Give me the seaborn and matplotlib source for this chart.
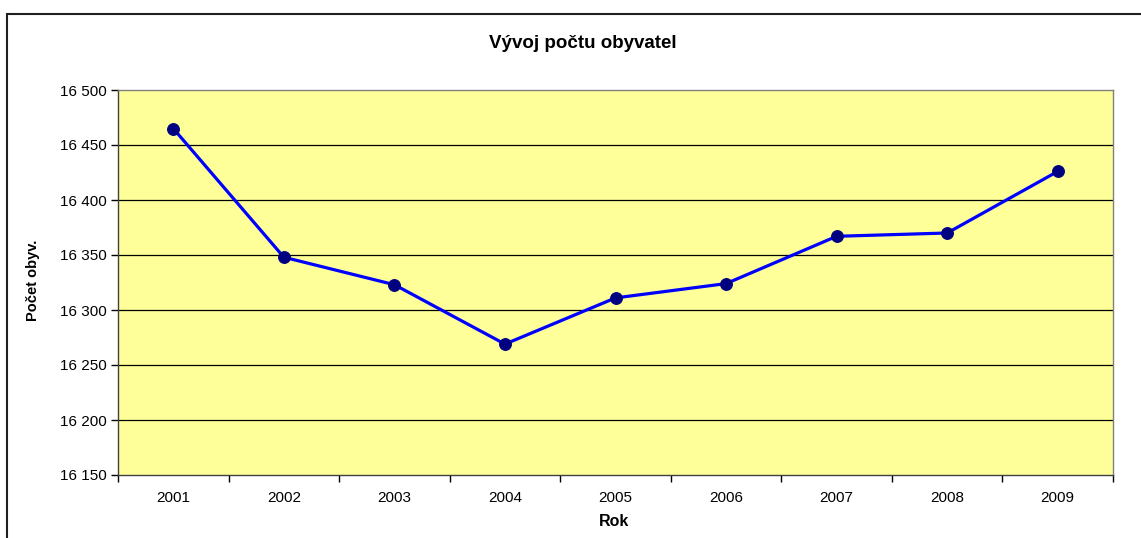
import matplotlib
matplotlib.use("Agg")
import matplotlib.pyplot as plt
import seaborn as sns
import numpy as np
from matplotlib.patches import Rectangle
from matplotlib.ticker import FuncFormatter, FixedLocator

years = ["2001", "2002", "2003", "2004", "2005", "2006", "2007", "2008", "2009"]
population = [16465, 16348, 16323, 16269, 16311, 16324, 16367, 16370, 16426]
y_ticks = [16150, 16200, 16250, 16300, 16350, 16400, 16450, 16500]

sns.set_theme(style="white")
plt.rcParams['font.family'] = ['Liberation Sans', 'DejaVu Sans']

W, H = 1141, 538
fig = plt.figure(figsize=(W / 100, H / 100), dpi=100)
fig.patch.set_facecolor("white")

left, right, top, bottom = 118, 1113, 90, 475
ax = fig.add_axes([left / W, 1 - bottom / H, (right - left) / W, (bottom - top) / H])
ax.set_facecolor("#FFFF99")

idx = np.arange(len(years))
sns.lineplot(x=idx, y=population, ax=ax, color="#0000FF", linewidth=2.3,
             marker="o", markersize=8.5, markerfacecolor="#000080",
             markeredgecolor="#000080", zorder=3)

ax.set_xlim(-0.5, len(years) - 0.5)
ax.set_ylim(y_ticks[0], y_ticks[-1])
ax.yaxis.set_major_locator(FixedLocator(y_ticks))
ax.yaxis.set_major_formatter(FuncFormatter(lambda v, p: f"{int(v):,}".replace(",", " ")))
ax.set_xticks(idx)
ax.set_xticklabels(years)
ax.set_xticks(np.arange(-0.5, len(years)), minor=True)
ax.tick_params(axis="x", which="major", length=0, pad=11.5, labelsize=11, colors="black")
ax.tick_params(axis="x", which="minor", length=5, width=1, color="black", direction="out", bottom=True)
ax.tick_params(axis="y", which="major", length=5, width=1, color="black", direction="out",
               left=True, pad=3, labelsize=11, labelcolor="black")

for y in y_ticks[1:-1]:
    ax.axhline(y, color="black", linewidth=0.9, zorder=1)

for s in ["top", "right"]:
    ax.spines[s].set_color("#808080")
    ax.spines[s].set_linewidth(1.0)
for s in ["left", "bottom"]:
    ax.spines[s].set_color("#404040")
    ax.spines[s].set_linewidth(1.0)

ax.set_xlabel("")
ax.set_ylabel("")
fig.text(583 / W, 1 - 43 / H, "Vývoj počtu obyvatel", ha="center", va="center",
         fontsize=13.5, fontweight="bold", color="black")
fig.text(614 / W, 1 - 522 / H, "Rok", ha="center", va="center", fontsize=11.5,
         fontweight="bold", color="black")
fig.text(33 / W, 1 - 280 / H, "Počet obyv.", ha="center", va="center", rotation=90,
         fontsize=10.5, fontweight="bold", color="black")

fig.patches.append(Rectangle((7 / W, -0.1), 1.2, 1.1 - 14 / H, transform=fig.transFigure,
                             fill=False, edgecolor="#202020", linewidth=1.5))

fig.savefig("out.png", dpi=100)
